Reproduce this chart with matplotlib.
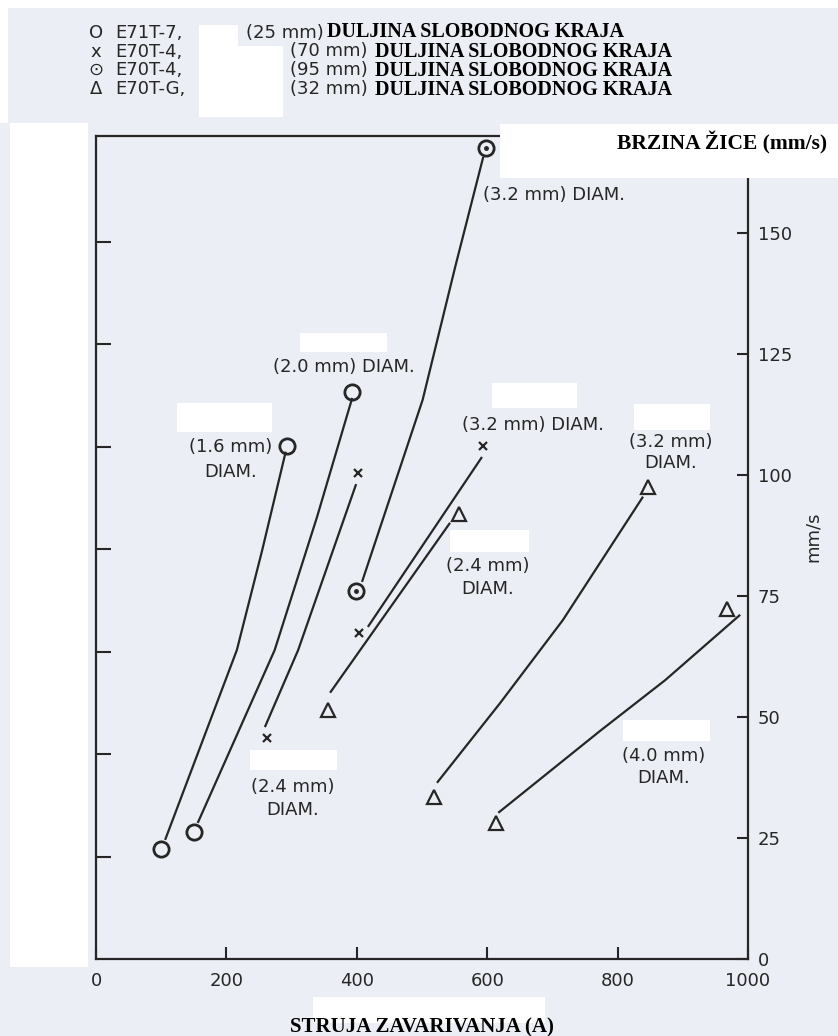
import matplotlib
matplotlib.use("Agg")
import matplotlib.pyplot as plt
from matplotlib.patches import Rectangle

# figure size in pixels
W, H = 838, 1036
BG = '#eceef5'
INK = '#262626'

# struja zavarivanja (A) / brzina zice (mm/s)
# E71T-7, 25 mm
c16_pts_x = [100, 293]
c16_pts_y = [22.7, 106.0]
c16_line_x = [106, 216, 255, 291]
c16_line_y = [24.6, 63.8, 84.5, 104.8]

c20_pts_x = [150, 393]
c20_pts_y = [26.2, 117.1]
c20_line_x = [156, 274, 339, 393]
c20_line_y = [28.1, 63.8, 91.3, 115.9]

# E70T-4, 70 mm
x24_pts_x = [262, 402]
x24_pts_y = [45.7, 100.4]
x24_line_x = [259, 310, 399]
x24_line_y = [47.9, 63.8, 98.1]

x32_pts_x = [403, 594]
x32_pts_y = [67.4, 106.0]
x32_line_x = [417, 592]
x32_line_y = [68.6, 103.7]

# E70T-4, 95 mm
d32_pts_x = [399, 598]
d32_pts_y = [76.0, 167.6]
d32_line_x = [408, 501, 551, 594]
d32_line_y = [77.9, 115.5, 143.0, 165.7]

# E70T-G, 32 mm
t24_pts_x = [356, 557]
t24_pts_y = [51.4, 91.9]
t24_line_x = [359, 543]
t24_line_y = [55.0, 90.1]

t32_pts_x = [518, 847]
t32_pts_y = [33.5, 97.5]
t32_line_x = [523, 620, 716, 839]
t32_line_y = [36.4, 52.9, 70.0, 95.5]

t40_pts_x = [613, 968]
t40_pts_y = [28.1, 72.3]
t40_line_x = [617, 773, 873, 988]
t40_line_y = [30.2, 47.1, 57.6, 71.1]

x_ticks = [0, 200, 400, 600, 800, 1000]
mm_ticks = [0, 25, 50, 75, 100, 125, 150]
in_min_ticks = [50, 100, 150, 200, 250, 300, 350]   # lijeva os, bez oznaka

legend_marks = ['O', 'x', '\u2299', '\u0394']
legend_types = ['E71T-7,', 'E70T-4,', 'E70T-4,', 'E70T-G,']
legend_len = ['(25 mm)', '(70 mm)', '(95 mm)', '(32 mm)']
legend_tail = 'DULJINA SLOBODNOG KRAJA'


def fx(px):
    return px / W


def fy(py):
    return 1 - py / H


def white_box(fig, x0, y0, x1, y1):
    fig.add_artist(Rectangle((fx(x0), fy(y1)), (x1 - x0) / W, (y1 - y0) / H,
                             transform=fig.transFigure, fc='white', ec='none', zorder=2))


fig = plt.figure(figsize=(W / 100, H / 100), dpi=100, facecolor=BG)
ax = fig.add_axes([96 / W, (H - 959) / H, 652 / W, 823 / H])
ax.set_facecolor(BG)
ax.set_xlim(0, 1000)
ax.set_ylim(0, 170)
for s in ax.spines.values():
    s.set_linewidth(1.6)
    s.set_color(INK)

# lijeva os: crtice u in/min (bez brojeva)
ax.set_yticks([v * 25.4 / 60 for v in in_min_ticks])
ax.tick_params(axis='y', direction='in', length=10.5, width=1.5, color=INK,
               labelleft=False)
ax.set_xticks(x_ticks)
ax.set_xticklabels([str(v) for v in x_ticks])
ax.tick_params(axis='x', direction='in', length=8.5, width=1.5, color=INK,
               labelsize=13, labelcolor=INK, pad=9)

ax2 = ax.twinx()
ax2.set_ylim(0, 170)
for s in ax2.spines.values():
    s.set_visible(False)
ax2.set_yticks(mm_ticks)
ax2.set_yticklabels([str(v) for v in mm_ticks])
ax2.tick_params(axis='y', direction='in', length=8, width=1.5, color=INK,
                labelsize=13, labelcolor=INK, pad=7)

line_kw = dict(color=INK, lw=1.6, solid_capstyle='butt', solid_joinstyle='round')
circ_kw = dict(ls='none', marker='o', ms=11, mfc='none', mec=INK, mew=2.0, clip_on=False)
tri_kw = dict(ls='none', marker='^', ms=10, mfc='none', mec=INK, mew=1.6)
x_kw = dict(ls='none', marker='x', ms=6, mec=INK, mew=1.6)

for lx, ly in [(c16_line_x, c16_line_y), (c20_line_x, c20_line_y),
               (x24_line_x, x24_line_y), (x32_line_x, x32_line_y),
               (d32_line_x, d32_line_y), (t24_line_x, t24_line_y),
               (t32_line_x, t32_line_y), (t40_line_x, t40_line_y)]:
    ax.plot(lx, ly, **line_kw)

ax.plot(c16_pts_x, c16_pts_y, **circ_kw)
ax.plot(c20_pts_x, c20_pts_y, **circ_kw)
ax.plot(d32_pts_x, d32_pts_y, **circ_kw)
ax.plot(d32_pts_x, d32_pts_y, ls='none', marker='o', ms=2.5, color=INK, clip_on=False)
ax.plot(x24_pts_x, x24_pts_y, **x_kw)
ax.plot(x32_pts_x, x32_pts_y, **x_kw)
ax.plot(t24_pts_x, t24_pts_y, **tri_kw)
ax.plot(t32_pts_x, t32_pts_y, **tri_kw)
ax.plot(t40_pts_x, t40_pts_y, **tri_kw)

# oznake promjera
lab = dict(fontsize=13, color=INK, ha='center', va='center')
ax.text(207, 105.8, '(1.6 mm)', **lab)
ax.text(207, 100.6, 'DIAM.', **lab)
ax.text(380, 122.3, '(2.0 mm) DIAM.', **lab)
ax.text(593, 157.9, '(3.2 mm) DIAM.', fontsize=13, color=INK, ha='left', va='center')
ax.text(670, 110.3, '(3.2 mm) DIAM.', **lab)
ax.text(601, 81.2, '(2.4 mm)', **lab)
ax.text(601, 76.4, 'DIAM.', **lab)
ax.text(882, 106.8, '(3.2 mm)', **lab)
ax.text(882, 102.5, 'DIAM.', **lab)
ax.text(871, 41.9, '(4.0 mm)', **lab)
ax.text(871, 37.4, 'DIAM.', **lab)
ax.text(302, 35.5, '(2.4 mm)', **lab)
ax.text(302, 30.8, 'DIAM.', **lab)
fig.text(fx(813), fy(537), 'mm/s', rotation=90, fontsize=13, color=INK,
         ha='center', va='center')

# bijele zakrpe kao na skenu
white_box(fig, 0, 0, W, 8)
white_box(fig, 0, 0, 8, 123)
white_box(fig, 199, 25, 238, 47)
white_box(fig, 199, 46, 283, 117)
white_box(fig, 500, 124, W, 178)
white_box(fig, 10, 123, 88, 967)
white_box(fig, 313, 997, 545, 1023)
white_box(fig, 177, 403, 272, 432)
white_box(fig, 300, 333, 387, 352)
white_box(fig, 492, 383, 577, 408)
white_box(fig, 450, 530, 529, 552)
white_box(fig, 634, 404, 710, 430)
white_box(fig, 623, 720, 710, 741)
white_box(fig, 250, 750, 337, 770)

# legenda: redovi razmaka ~18 px
sans = dict(fontsize=13, color=INK, va='center', linespacing=1.047)
serif = dict(family='Liberation Serif', weight='bold', fontsize=14.5, color='black',
             va='center', ha='left', linespacing=0.955)
fig.text(fx(96), fy(61), '\n'.join(legend_marks), ha='center',
         multialignment='center', **sans)
fig.text(fx(115), fy(61), '\n'.join(legend_types), ha='left', **sans)
fig.text(fx(246), fy(33.5), legend_len[0], ha='left', **sans)
fig.text(fx(290), fy(70), '\n'.join(legend_len[1:]), ha='left', **sans)
fig.text(fx(327), fy(32), legend_tail, **serif)
fig.text(fx(375), fy(71), '\n'.join([legend_tail] * 3), **serif)

fig.text(fx(617), fy(143), 'BRZINA ŽICE (mm/s)', family='Liberation Serif',
         weight='bold', fontsize=15.5, color='black', ha='left', va='center')
fig.text(fx(422), fy(1032), 'STRUJA ZAVARIVANJA (A)', family='Liberation Serif',
         weight='bold', fontsize=15, color='black', ha='center', va='baseline')

fig.savefig('out.png', dpi=100, facecolor=BG)
